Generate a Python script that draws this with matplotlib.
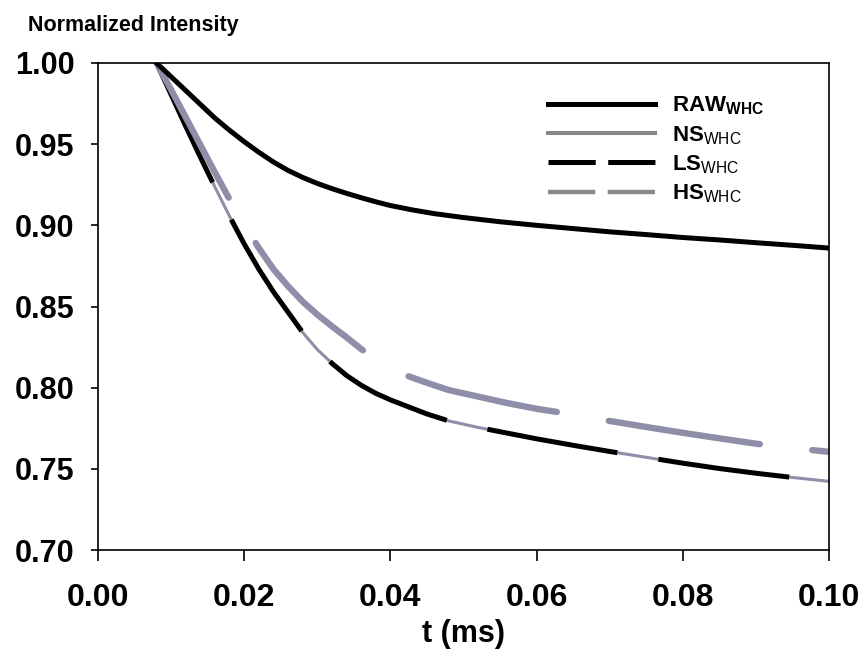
import numpy as np
import matplotlib
matplotlib.use("Agg")
import matplotlib.pyplot as plt
from matplotlib.lines import Line2D

plt.rcParams['font.family'] = ['Liberation Sans', 'DejaVu Sans']
plt.rcParams['mathtext.fontset'] = 'custom'
plt.rcParams['mathtext.rm'] = 'Liberation Sans'
plt.rcParams['mathtext.bf'] = 'Liberation Sans:bold'
plt.rcParams['lines.scale_dashes'] = False

# values (t in ms, normalized intensity)
t_raw = [0.008, 0.010, 0.012, 0.014, 0.016, 0.018, 0.020, 0.022, 0.024, 0.026,
         0.028, 0.030, 0.032, 0.034, 0.036, 0.038, 0.040, 0.043, 0.046, 0.050,
         0.055, 0.060, 0.065, 0.070, 0.075, 0.080, 0.085, 0.090, 0.095, 0.100]
raw = [1.000, 0.9915, 0.983, 0.9745, 0.966, 0.9585, 0.9515, 0.945, 0.939, 0.9338,
       0.9295, 0.9258, 0.9226, 0.9197, 0.917, 0.9145, 0.9122, 0.9095, 0.9072, 0.9048,
       0.9022, 0.900, 0.898, 0.896, 0.8943, 0.8925, 0.891, 0.8893, 0.8877, 0.886]

t_ns = [0.008, 0.010, 0.012, 0.014, 0.016, 0.018, 0.020, 0.022, 0.024, 0.026,
        0.028, 0.030, 0.032, 0.034, 0.036, 0.038, 0.040, 0.042, 0.045, 0.048,
        0.052, 0.056, 0.060, 0.065, 0.070, 0.075, 0.080, 0.085, 0.090, 0.095, 0.100]
ns = [1.000, 0.9805, 0.961, 0.942, 0.9235, 0.9055, 0.8885, 0.873, 0.859, 0.8465,
      0.834, 0.8235, 0.815, 0.8075, 0.8015, 0.7965, 0.7925, 0.789, 0.7838, 0.7795,
      0.7755, 0.772, 0.7685, 0.7645, 0.7607, 0.7571, 0.7535, 0.7502, 0.7473, 0.7447, 0.7423]

t_ls = list(t_ns)
ls = list(ns)

t_hs = [0.008, 0.010, 0.012, 0.014, 0.016, 0.018, 0.020, 0.022, 0.024, 0.026,
        0.028, 0.030, 0.032, 0.034, 0.036, 0.038, 0.040, 0.042, 0.045, 0.048,
        0.052, 0.056, 0.060, 0.065, 0.070, 0.075, 0.080, 0.085, 0.090, 0.095, 0.100]
hs = [1.000, 0.9835, 0.9665, 0.9495, 0.9325, 0.916, 0.9005, 0.886, 0.873, 0.8625,
      0.853, 0.845, 0.8378, 0.831, 0.8238, 0.8172, 0.8118, 0.8078, 0.803, 0.7985,
      0.7945, 0.7905, 0.787, 0.7835, 0.7795, 0.7758, 0.7722, 0.7688, 0.7655, 0.7628, 0.7605]

xticks = [0.00, 0.02, 0.04, 0.06, 0.08, 0.10]
yticks = [0.70, 0.75, 0.80, 0.85, 0.90, 0.95, 1.00]

grey = '#8e8ea8'

fig = plt.figure(figsize=(8.66, 6.52), dpi=100)
ax = fig.add_axes([0.1132, 0.1564, 0.8441, 0.747])

ax.plot(t_ns, ns, color=grey, lw=2.2, solid_capstyle='round', solid_joinstyle='round')
ax.plot(t_ls, ls, color='black', lw=3.6, dashes=(95, 30), dash_capstyle='butt',
        dash_joinstyle='round')
ax.plot(t_hs, hs, color=grey, lw=4.6, dashes=(110, 38), dash_capstyle='round',
        dash_joinstyle='round')
ax.plot(t_raw, raw, color='black', lw=3.6, solid_capstyle='round', solid_joinstyle='round')

ax.set_xlim(0, 0.10)
ax.set_ylim(0.70, 1.00)
ax.set_xticks(xticks)
ax.set_yticks(yticks)
ax.set_xticklabels(['%.2f' % v for v in xticks], fontsize=23, fontweight='bold')
ax.set_yticklabels(['%.2f' % v for v in yticks], fontsize=22, fontweight='bold')
ax.tick_params(axis='x', direction='out', length=8, width=1.2, pad=16, top=False)
ax.tick_params(axis='y', direction='out', length=5, width=1.2, pad=12, right=False)
for s in ax.spines.values():
    s.set_linewidth(1.2)

ax.set_xlabel('t (ms)', fontsize=22, fontweight='bold', labelpad=4)
fig.text(28 / 866, 1 - 26 / 652, 'Normalized Intensity', fontsize=15.5,
         fontweight='bold', va='center', ha='left')

handles = [
    Line2D([], [], color='black', lw=3.6),
    Line2D([], [], color='#888888', lw=2.9),
    Line2D([], [], color='black', lw=3.6, dashes=(34, 9)),
    Line2D([], [], color='#888888', lw=3.2, dashes=(34, 9)),
]
labels = [r'$\mathbf{RAW_{WHC}}$', r'$\mathbf{NS}_{\mathrm{WHC}}$',
          r'$\mathbf{LS}_{\mathrm{WHC}}$', r'$\mathbf{HS}_{\mathrm{WHC}}$']
ax.legend(handles, labels, loc='upper left', bbox_to_anchor=(0.616, 0.935),
          frameon=False, fontsize=16, handlelength=4.8, handletextpad=0.75,
          labelspacing=0.3, borderpad=0, borderaxespad=0)

fig.savefig('out.png', dpi=100)
